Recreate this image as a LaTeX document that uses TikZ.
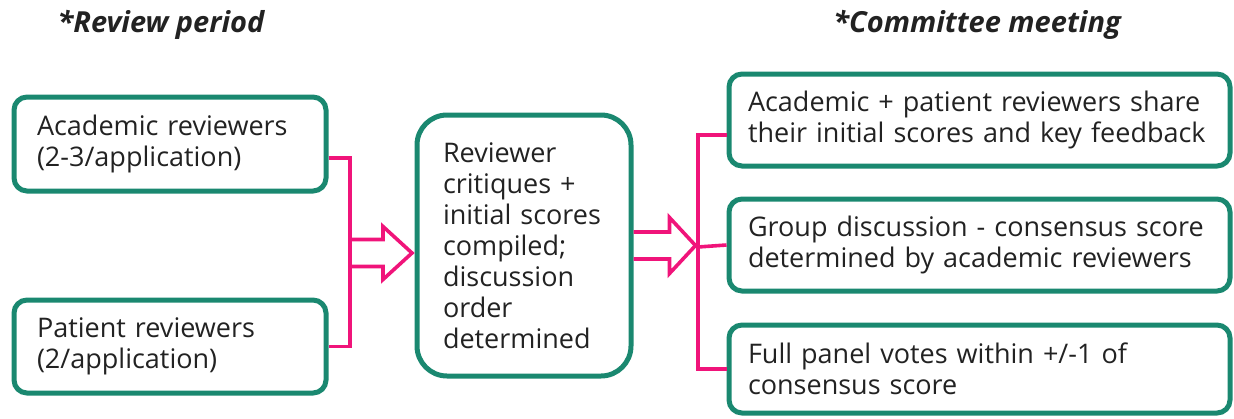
\documentclass[tikz,border=0pt]{standalone}
\usepackage{fontspec}
\setmainfont{Open Sans}
\definecolor{boxteal}{HTML}{1A8870}
\definecolor{linkpink}{HTML}{F0147A}
\definecolor{inktext}{HTML}{222222}

\begin{document}
\begin{tikzpicture}
[
	x=1pt,y=-1pt,
	stagebox/.style={draw=boxteal,line width=5pt,rounded corners=13pt,text=inktext,
		align=left,inner sep=0pt,font=\fontsize{27}{31}\selectfont},
	bracket/.style={draw=linkpink,line width=3.6pt},
	hollow/.style={draw=linkpink,line width=3.6pt,line join=miter},
	heading/.style={font=\fontsize{29}{32}\selectfont\bfseries\itshape,text=inktext}
]

	\useasboundingbox (0,0) rectangle (1234,418);

	% headings
	\node[heading] (hreview) at (161,25) {*Review period};
	\node[heading] (hmeeting) at (977,25) {*Committee meeting};

	% review period boxes
	\node[stagebox,minimum width=312pt,minimum height=94pt,text width=266pt] (acad) at (170,144)
		{Academic reviewers\\(2-3/application)};
	\node[stagebox,minimum width=312pt,minimum height=93pt,text width=266pt] (pat) at (170,346.5)
		{Patient reviewers\\(2/application)};

	% compiled critiques
	\node[stagebox,rounded corners=30pt,minimum width=214pt,minimum height=261pt,text width=162pt] (mid) at (524,245.5)
		{Reviewer\\critiques +\\initial scores\\compiled;\\discussion\\order\\determined};

	% committee meeting boxes
	\node[stagebox,minimum width=501pt,minimum height=92pt,text width=463pt] (share) at (979.5,120)
		{Academic + patient reviewers share\\their initial scores and key feedback};
	\node[stagebox,minimum width=501pt,minimum height=92pt,text width=463pt] (discuss) at (979.5,245)
		{Group discussion - consensus score\\determined by academic reviewers};
	\node[stagebox,minimum width=501pt,minimum height=88pt,text width=463pt] (vote) at (979.5,369)
		{Full panel votes within +/-1 of\\consensus score};

	% joins
	\coordinate (jleft) at (350,253);
	\coordinate (jright) at (698,247);

	\draw[bracket] ([yshift=-14pt]acad.east) -| (jleft) |- (pat.east);
	\draw[bracket] ([yshift=-15pt]share.west) -| (jright) |- (vote.west);
	\draw[bracket] (jright) -- (discuss.west);

	% hollow arrows
	\draw[hollow] (jleft) ++(0,-13.5) -- ++(33,0) -- ++(0,-13) -- ++(29,26.5) -- ++(-29,26.5)
		-- ++(0,-13) -- ++(-33,0);
	\draw[hollow] (mid.east) ++(0,-13.5) -- ++(36,0) -- ++(0,-14.5) -- ++(26,28) -- ++(-26,28)
		-- ++(0,-14.5) -- ++(-36,0);

\end{tikzpicture}
\end{document}
